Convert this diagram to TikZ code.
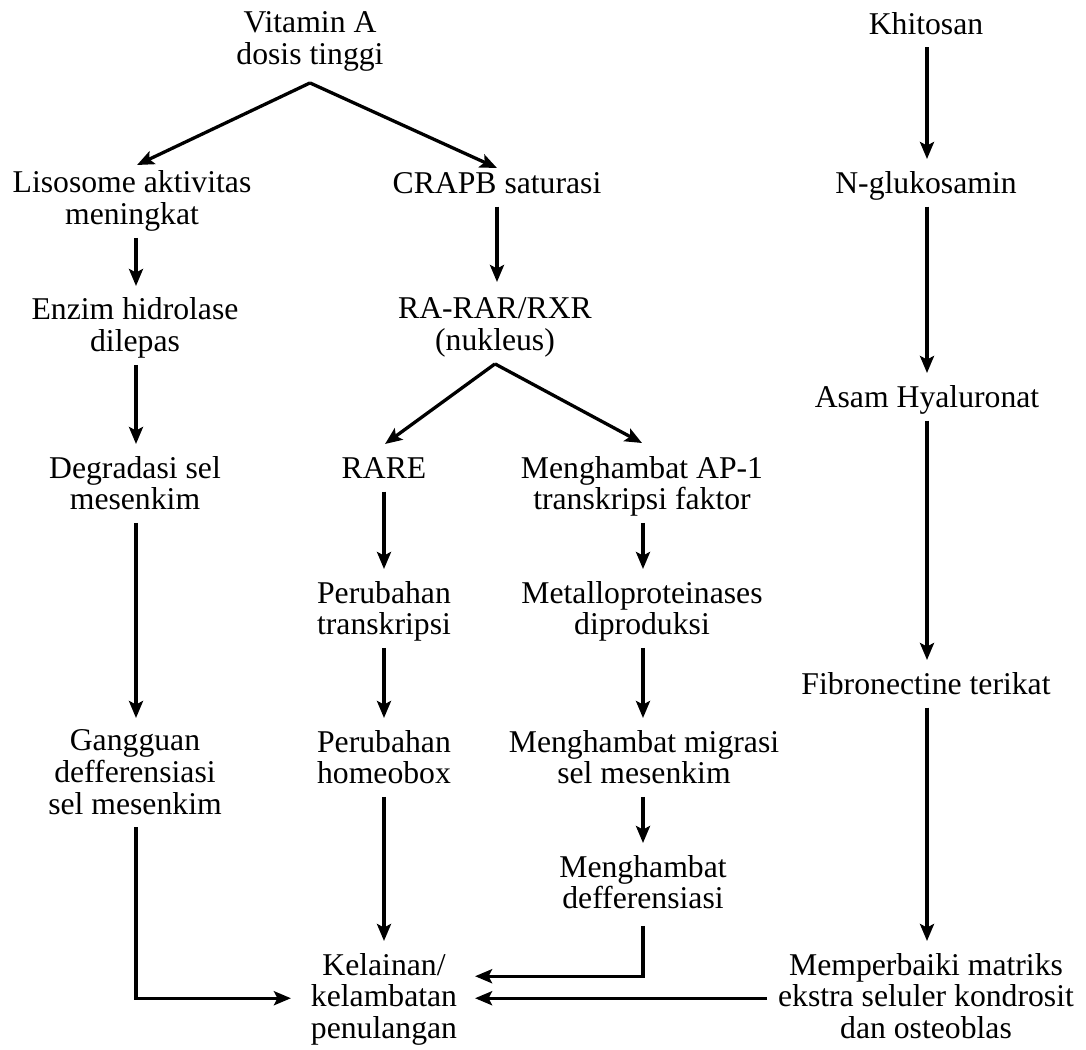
\documentclass[tikz,border=0pt]{standalone}
\usepackage{fontspec}
\setmainfont{Liberation Serif}
\usetikzlibrary{arrows.meta,calc}
\begin{document}
\begin{tikzpicture}[x=1pt,y=-1pt,
  txt/.style={align=center, inner sep=0pt, outer sep=0pt, anchor=north,
    font=\fontsize{31.7}{31.5}\selectfont,
    execute at begin node=\strut, execute at end node=\strut},
  arr/.style={line width=3.3pt, -{Stealth[length=17pt,width=14pt,inset=3.5pt]}},
  down/.style={arr, shorten <=4pt, shorten >=12pt}]
\useasboundingbox (0,0) rectangle (1086,1049);
\fill[white] (0,0) rectangle (1086,1049);
% column guides
\coordinate (cL) at (136,0);
\coordinate (cC) at (497,0);
\coordinate (cR) at (384,0);
\coordinate (cM) at (643,0);
\coordinate (cK) at (927,0);
% nodes
\node[txt] (vit) at (310,12) {Vitamin A\\dosis tinggi};
\node[txt] (khi) at (926,12) {Khitosan};
\node[txt] (lis) at (132,171) {Lisosome aktivitas\\meningkat};
\node[txt] (crapb) at (497,171) {CRAPB saturasi};
\node[txt] (nglu) at (926,171) {N-glukosamin};
\node[txt] (enz) at (135,298) {Enzim hidrolase\\dilepas};
\node[txt] (rar) at (495,298) {RA-RAR/RXR\\(nukleus)};
\node[txt] (asam) at (927,385) {Asam Hyaluronat};
\node[txt] (deg) at (135,456) {Degradasi sel\\mesenkim};
\node[txt] (rare) at (384,456) {RARE};
\node[txt] (ap1) at (642,456) {Menghambat AP-1\\transkripsi faktor};
\node[txt] (per1) at (384,581) {Perubahan\\transkripsi};
\node[txt] (metal) at (642,581) {Metalloproteinases\\diproduksi};
\node[txt] (fibro) at (926,672) {Fibronectine terikat};
\node[txt] (gang) at (135,730) {Gangguan\\defferensiasi\\sel mesenkim};
\node[txt] (per2) at (384,730) {Perubahan\\homeobox};
\node[txt] (migr) at (644,730) {Menghambat migrasi\\sel mesenkim};
\node[txt] (mdef) at (643,855) {Menghambat\\defferensiasi};
\node[txt] (kel) at (384,953) {Kelainan/\\kelambatan\\penulangan};
\node[txt] (mem) at (926,953) {Memperbaiki matriks\\ekstra seluler kondrosit\\dan osteoblas};
% diagonal branches
\draw[arr] ([yshift=-9pt]vit.south) -- ([xshift=5pt,yshift=6pt]lis.north);
\draw[arr] ([yshift=-9pt]vit.south) -- ([yshift=3pt]crapb.north);
\draw[arr] ([yshift=-4pt]rar.south) -- ([xshift=1pt,yshift=12pt]rare.north);
\draw[arr] ([yshift=-4pt]rar.south) -- ([yshift=13pt]ap1.north);
% left column
\draw[down] (lis.south -| cL) -- (enz.north -| cL);
\draw[down] (enz.south -| cL) -- (deg.north -| cL);
\draw[down] (deg.south -| cL) -- (gang.north -| cL);
% CRAPB column
\draw[down, shorten >=16pt] (crapb.south -| cC) -- (rar.north -| cC);
% RARE column
\draw[down] (rare.south -| cR) -- (per1.north -| cR);
\draw[down] (per1.south -| cR) -- (per2.north -| cR);
\draw[down] (per2.south -| cR) -- (kel.north -| cR);
% AP-1 column
\draw[down] (ap1.south -| cM) -- (metal.north -| cM);
\draw[down] (metal.south -| cM) -- (migr.north -| cM);
\draw[down] (migr.south -| cM) -- (mdef.north -| cM);
% Khitosan column
\draw[down] (khi.south -| cK) -- (nglu.north -| cK);
\draw[down] (nglu.south -| cK) -- (asam.north -| cK);
\draw[down] (asam.south -| cK) -- (fibro.north -| cK);
\draw[down] (fibro.south -| cK) -- (mem.north -| cK);
% bottom joins
\draw[arr, shorten <=4pt, shorten >=20pt] (gang.south -| cL) |- ([yshift=2pt]kel.west);
\draw[arr, shorten <=8pt, shorten >=18pt] (mdef.south -| cM) |- ([yshift=24pt]kel.east);
\draw[arr, shorten <=11pt, shorten >=18pt] ([yshift=2pt]mem.west) -- ([yshift=2pt]kel.east);
\end{tikzpicture}
\end{document}
